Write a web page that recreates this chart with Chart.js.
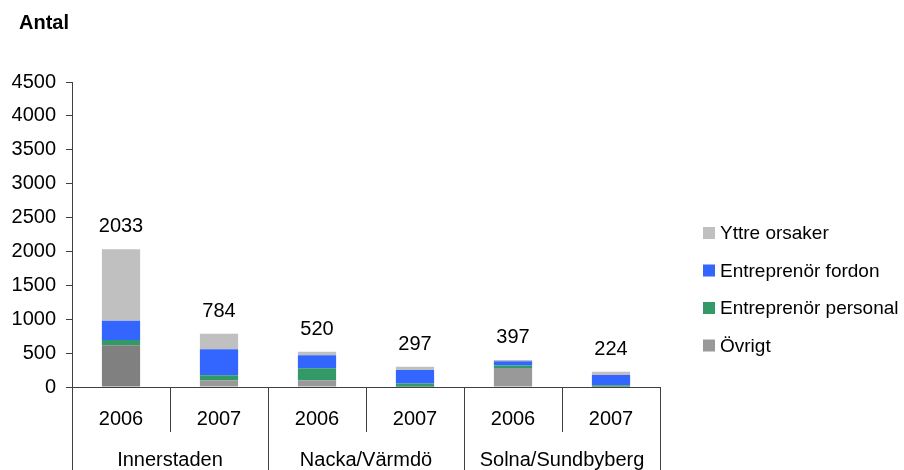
<!DOCTYPE html>
<html>
<head>
<meta charset="utf-8">
<script src="https://cdn.jsdelivr.net/npm/chart.js@4/dist/chart.umd.min.js"></script>
<style>
  html, body { margin: 0; padding: 0; background: #fff; }
  #wrap { width: 904px; height: 470px; position: relative; }
</style>
</head>
<body>
<div id="wrap"><canvas id="c" width="904" height="470"></canvas></div>
<script>
// data
const years = ['2006', '2007', '2006', '2007', '2006', '2007'];
const groups = ['Innerstaden', 'Nacka/Värmdö', 'Solna/Sundbyberg'];
const ovrigt = [617, 99, 99, 5, 281, 5];
const personal = [78, 74, 178, 45, 36, 22];
const fordon = [281, 385, 192, 200, 64, 150];
const yttre = [1057, 226, 51, 47, 16, 47];
const totals = [2033, 784, 520, 297, 397, 224];

const FONT = "'Liberation Sans', Arial, sans-serif";
const AXIS = '#404040';

const legendItems = [
  { text: 'Yttre orsaker', color: '#c0c0c0' },
  { text: 'Entreprenör fordon', color: '#3366ff' },
  { text: 'Entreprenör personal', color: '#339966' },
  { text: 'Övrigt', color: '#999999' }
];

// totals, category boxes, group names, legend, "Antal"
const decor = {
  id: 'decor',
  afterDraw(chart) {
    const { ctx, scales: { x, y }, chartArea } = chart;
    ctx.save();
    ctx.fillStyle = '#000';
    ctx.font = '20px ' + FONT;
    ctx.textAlign = 'center';
    ctx.textBaseline = 'alphabetic';
    totals.forEach((t, i) => {
      ctx.fillText(String(t), x.getPixelForValue(i), y.getPixelForValue(t) - 17);
    });

    // separators below the axis
    ctx.strokeStyle = AXIS;
    ctx.lineWidth = 1;
    for (let i = 0; i <= years.length; i++) {
      const px = Math.round(x.getPixelForValue(i - 0.5)) + 0.5;
      ctx.beginPath();
      ctx.moveTo(px, chartArea.bottom);
      ctx.lineTo(px, i % 2 === 0 ? 470 : 432);
      ctx.stroke();
    }

    groups.forEach((g, i) => {
      const cx = (x.getPixelForValue(2 * i) + x.getPixelForValue(2 * i + 1)) / 2;
      ctx.fillText(g, cx, 466);
    });

    // legend
    ctx.textAlign = 'left';
    ctx.font = '19px ' + FONT;
    legendItems.forEach((it, i) => {
      const top = 227 + i * 37.5;
      ctx.fillStyle = it.color;
      ctx.fillRect(703, top, 12, 12);
      ctx.fillStyle = '#000';
      ctx.fillText(it.text, 720, top + 12);
    });

    ctx.font = 'bold 20px ' + FONT;
    ctx.fillText('Antal', 19, 29);
    ctx.restore();
  }
};

new Chart(document.getElementById('c'), {
  type: 'bar',
  data: {
    labels: years,
    datasets: [
      { label: 'Övrigt', data: ovrigt, backgroundColor: ['#808080', '#999999', '#999999', '#999999', '#999999', '#999999'] },
      { label: 'Entreprenör personal', data: personal, backgroundColor: '#339966' },
      { label: 'Entreprenör fordon', data: fordon, backgroundColor: '#3366ff' },
      { label: 'Yttre orsaker', data: yttre, backgroundColor: '#c0c0c0' }
    ]
  },
  options: {
    responsive: false,
    animation: false,
    layout: { padding: { left: 0, right: 244, top: 82, bottom: 0 } },
    datasets: { bar: { categoryPercentage: 1, barPercentage: 0.39, borderWidth: 0 } },
    plugins: {
      legend: { display: false },
      tooltip: { enabled: false }
    },
    scales: {
      x: {
        stacked: true,
        afterFit: s => { s.height = 83; },
        grid: { display: false },
        border: { display: true, color: AXIS },
        ticks: { color: '#000', font: { family: FONT, size: 20 }, padding: 12, maxRotation: 0 }
      },
      y: {
        stacked: true,
        min: 0,
        max: 4500,
        afterFit: s => { s.width = 72; },
        grid: { drawOnChartArea: false, tickLength: 6, color: AXIS },
        border: { display: true, color: AXIS },
        ticks: { stepSize: 500, color: '#000', font: { family: FONT, size: 20 }, padding: 10, callback: v => String(v) }
      }
    }
  },
  plugins: [decor]
});
</script>
</body>
</html>
